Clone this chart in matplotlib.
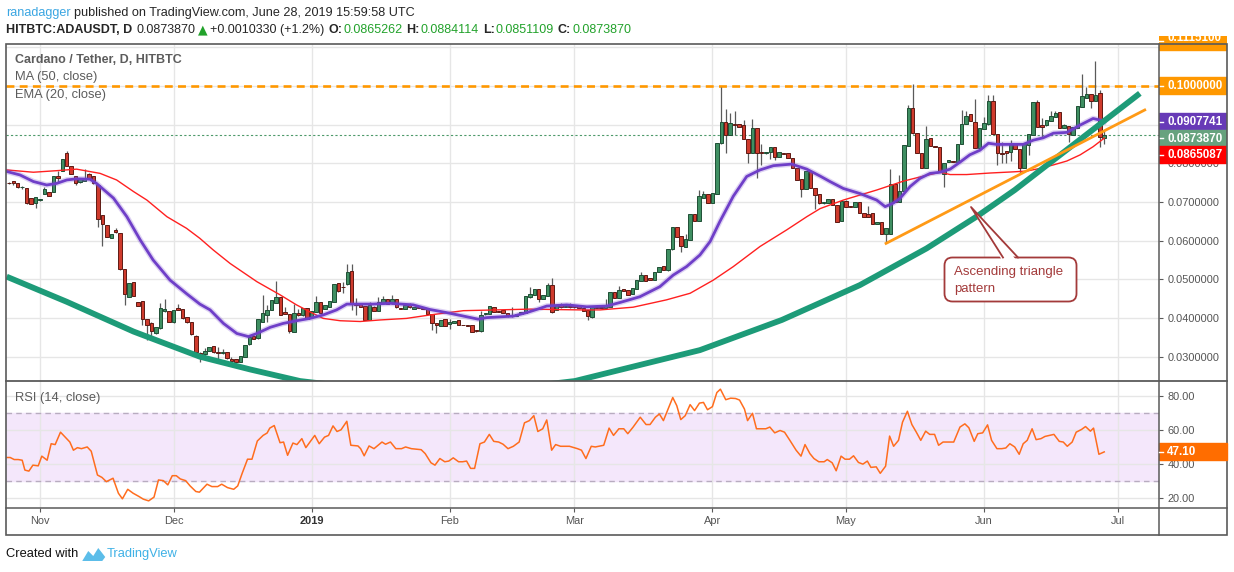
import datetime as dt
import numpy as np
import pandas as pd
import matplotlib
matplotlib.use("Agg")
import matplotlib.pyplot as plt
import matplotlib.dates as mdates
from matplotlib import font_manager
from matplotlib.patches import Rectangle, FancyBboxPatch, Polygon

W, H = 1234, 572

installed = {f.name for f in font_manager.fontManager.ttflist}
NARROW = "Liberation Sans Narrow" if "Liberation Sans Narrow" in installed else "Liberation Sans"
plt.rcParams["font.family"] = ["Liberation Sans", "DejaVu Sans"]

# ---------------- data ----------------
first_day = "2018-10-25"   # first (partly cut) daily candle

opens = [0.0749, 0.0754, 0.0748, 0.0738, 0.0735, 0.0710, 0.0698,
         0.0704, 0.0721, 0.0725, 0.0727, 0.0767, 0.0780, 0.0826, 0.0793, 0.0767, 0.0751,
         0.0755, 0.0773, 0.0767, 0.0744, 0.0666, 0.0640, 0.0608, 0.0628, 0.0619, 0.0526,
         0.0455, 0.0492, 0.0441, 0.0443, 0.0397, 0.0388, 0.0360, 0.0373, 0.0417, 0.0418,
         0.0389, 0.0425, 0.0423, 0.0402, 0.0390, 0.0354, 0.0310, 0.0307, 0.0316, 0.0327,
         0.0312, 0.0309, 0.0311, 0.0294, 0.0294, 0.0287, 0.0298, 0.0332, 0.0353, 0.0348,
         0.0391, 0.0408, 0.0421, 0.0440, 0.0454, 0.0416, 0.0410, 0.0365, 0.0413, 0.0407,
         0.0425, 0.0402, 0.0416, 0.0441, 0.0424, 0.0429, 0.0442, 0.0491, 0.0480, 0.0487,
         0.0522, 0.0438, 0.0435, 0.0430, 0.0395, 0.0429, 0.0419, 0.0440, 0.0448, 0.0438,
         0.0449, 0.0425, 0.0423, 0.0433, 0.0424, 0.0429, 0.0426, 0.0423, 0.0410, 0.0388,
         0.0380, 0.0398, 0.0385, 0.0386, 0.0395, 0.0382, 0.0381, 0.0381, 0.0369, 0.0366,
         0.0410, 0.0410, 0.0428, 0.0418, 0.0421, 0.0412, 0.0404, 0.0406, 0.0410, 0.0412,
         0.0454, 0.0460, 0.0475, 0.0450, 0.0458, 0.0485, 0.0421, 0.0433, 0.0429, 0.0431,
         0.0431, 0.0431, 0.0426, 0.0421, 0.0402, 0.0429, 0.0428, 0.0426, 0.0429, 0.0466,
         0.0453, 0.0474, 0.0473, 0.0461, 0.0476, 0.0497, 0.0511, 0.0503, 0.0498, 0.0520,
         0.0535, 0.0523, 0.0578, 0.0635, 0.0612, 0.0583, 0.0602, 0.0669, 0.0652, 0.0711,
         0.0720, 0.0698, 0.0721, 0.0852, 0.0908, 0.0873, 0.0902, 0.0902, 0.0899, 0.0862,
         0.0828, 0.0891, 0.0829, 0.0826, 0.0829, 0.0841, 0.0816, 0.0826, 0.0826, 0.0813,
         0.0787, 0.0759, 0.0733, 0.0781, 0.0735, 0.0720, 0.0697, 0.0697, 0.0707, 0.0692,
         0.0652, 0.0703, 0.0690, 0.0686, 0.0701, 0.0672, 0.0669, 0.0671, 0.0642, 0.0649,
         0.0616, 0.0616, 0.0746, 0.0699, 0.0728, 0.0846, 0.0942, 0.0878, 0.0826, 0.0789,
         0.0865, 0.0845, 0.0841, 0.0772, 0.0803, 0.0806, 0.0803, 0.0849, 0.0903, 0.0927,
         0.0906, 0.0839, 0.0889, 0.0901, 0.0961, 0.0875, 0.0827, 0.0832, 0.0830, 0.0852,
         0.0837, 0.0789, 0.0848, 0.0873, 0.0958, 0.0899, 0.0898, 0.0910, 0.0921, 0.0932,
         0.0891, 0.0897, 0.0873, 0.0892, 0.0945, 0.0970, 0.0979, 0.0961, 0.0981, 0.0865262]

highs = [0.0752, 0.0755, 0.0750, 0.0741, 0.0737, 0.0711, 0.0713,
         0.0708, 0.0740, 0.0726, 0.0768, 0.0779, 0.0812, 0.0831, 0.0794, 0.0768, 0.0760,
         0.0785, 0.0774, 0.0768, 0.0745, 0.0667, 0.0641, 0.0617, 0.0633, 0.0620, 0.0527,
         0.0490, 0.0493, 0.0442, 0.0444, 0.0398, 0.0389, 0.0378, 0.0440, 0.0449, 0.0419,
         0.0421, 0.0436, 0.0424, 0.0403, 0.0391, 0.0355, 0.0311, 0.0322, 0.0326, 0.0328,
         0.0325, 0.0319, 0.0312, 0.0300, 0.0295, 0.0303, 0.0331, 0.0351, 0.0353, 0.0397,
         0.0460, 0.0434, 0.0447, 0.0497, 0.0455, 0.0428, 0.0411, 0.0436, 0.0423, 0.0426,
         0.0426, 0.0419, 0.0457, 0.0441, 0.0434, 0.0445, 0.0489, 0.0491, 0.0492, 0.0540,
         0.0540, 0.0451, 0.0436, 0.0431, 0.0442, 0.0430, 0.0455, 0.0457, 0.0449, 0.0460,
         0.0450, 0.0426, 0.0434, 0.0438, 0.0428, 0.0430, 0.0427, 0.0423, 0.0410, 0.0388,
         0.0395, 0.0398, 0.0398, 0.0393, 0.0395, 0.0382, 0.0381, 0.0381, 0.0369, 0.0419,
         0.0414, 0.0431, 0.0428, 0.0418, 0.0421, 0.0412, 0.0428, 0.0410, 0.0416, 0.0457,
         0.0481, 0.0475, 0.0475, 0.0460, 0.0490, 0.0503, 0.0434, 0.0440, 0.0432, 0.0440,
         0.0431, 0.0431, 0.0426, 0.0421, 0.0428, 0.0429, 0.0428, 0.0448, 0.0468, 0.0466,
         0.0483, 0.0474, 0.0473, 0.0477, 0.0498, 0.0519, 0.0511, 0.0503, 0.0520, 0.0533,
         0.0535, 0.0578, 0.0635, 0.0635, 0.0612, 0.0617, 0.0669, 0.0669, 0.0731, 0.0729,
         0.0720, 0.0723, 0.0852, 0.0998, 0.0940, 0.0929, 0.0935, 0.0902, 0.0912, 0.0862,
         0.0914, 0.0891, 0.0850, 0.0830, 0.0841, 0.0841, 0.0829, 0.0826, 0.0826, 0.0813,
         0.0787, 0.0759, 0.0779, 0.0781, 0.0736, 0.0720, 0.0701, 0.0708, 0.0707, 0.0692,
         0.0703, 0.0704, 0.0690, 0.0699, 0.0701, 0.0672, 0.0690, 0.0671, 0.0649, 0.0649,
         0.0632, 0.0785, 0.0746, 0.0770, 0.0847, 0.0951, 0.1004, 0.0878, 0.0826, 0.0897,
         0.0866, 0.0845, 0.0841, 0.0802, 0.0809, 0.0806, 0.0849, 0.0938, 0.0935, 0.0927,
         0.0966, 0.0891, 0.0921, 0.0977, 0.0977, 0.0875, 0.0854, 0.0833, 0.0860, 0.0852,
         0.0837, 0.0849, 0.0875, 0.0958, 0.0964, 0.0916, 0.0911, 0.0935, 0.0935, 0.0932,
         0.0901, 0.0897, 0.0893, 0.0948, 0.1030, 0.0998, 0.0979, 0.1065, 0.0990, 0.0884114]

lows = [0.0746, 0.0744, 0.0737, 0.0733, 0.0695, 0.0694, 0.0684,
        0.0702, 0.0720, 0.0715, 0.0725, 0.0753, 0.0779, 0.0793, 0.0772, 0.0744, 0.0750,
        0.0754, 0.0762, 0.0747, 0.0636, 0.0587, 0.0609, 0.0606, 0.0620, 0.0525, 0.0433,
        0.0454, 0.0457, 0.0431, 0.0382, 0.0342, 0.0346, 0.0359, 0.0372, 0.0416, 0.0390,
        0.0388, 0.0421, 0.0398, 0.0388, 0.0357, 0.0310, 0.0287, 0.0300, 0.0315, 0.0310,
        0.0285, 0.0308, 0.0295, 0.0289, 0.0286, 0.0286, 0.0298, 0.0331, 0.0346, 0.0347,
        0.0390, 0.0391, 0.0420, 0.0439, 0.0408, 0.0411, 0.0360, 0.0364, 0.0406, 0.0406,
        0.0398, 0.0401, 0.0416, 0.0413, 0.0423, 0.0429, 0.0442, 0.0468, 0.0464, 0.0486,
        0.0421, 0.0408, 0.0428, 0.0394, 0.0394, 0.0417, 0.0418, 0.0439, 0.0435, 0.0437,
        0.0425, 0.0423, 0.0423, 0.0427, 0.0424, 0.0425, 0.0424, 0.0409, 0.0369, 0.0362,
        0.0380, 0.0380, 0.0371, 0.0386, 0.0382, 0.0381, 0.0379, 0.0364, 0.0365, 0.0365,
        0.0409, 0.0410, 0.0415, 0.0415, 0.0412, 0.0403, 0.0403, 0.0406, 0.0410, 0.0412,
        0.0453, 0.0460, 0.0442, 0.0450, 0.0457, 0.0414, 0.0420, 0.0427, 0.0429, 0.0427,
        0.0427, 0.0425, 0.0419, 0.0395, 0.0401, 0.0425, 0.0425, 0.0425, 0.0429, 0.0452,
        0.0452, 0.0470, 0.0459, 0.0461, 0.0476, 0.0496, 0.0496, 0.0498, 0.0498, 0.0520,
        0.0523, 0.0522, 0.0577, 0.0610, 0.0572, 0.0583, 0.0602, 0.0652, 0.0651, 0.0711,
        0.0698, 0.0698, 0.0720, 0.0851, 0.0826, 0.0872, 0.0872, 0.0895, 0.0862, 0.0802,
        0.0827, 0.0761, 0.0796, 0.0825, 0.0810, 0.0809, 0.0816, 0.0824, 0.0813, 0.0787,
        0.0757, 0.0712, 0.0733, 0.0735, 0.0681, 0.0696, 0.0696, 0.0697, 0.0692, 0.0649,
        0.0651, 0.0688, 0.0686, 0.0686, 0.0671, 0.0660, 0.0660, 0.0642, 0.0642, 0.0616,
        0.0593, 0.0616, 0.0701, 0.0699, 0.0728, 0.0845, 0.0877, 0.0828, 0.0789, 0.0789,
        0.0845, 0.0841, 0.0778, 0.0740, 0.0803, 0.0803, 0.0803, 0.0849, 0.0903, 0.0909,
        0.0839, 0.0838, 0.0888, 0.0900, 0.0875, 0.0796, 0.0800, 0.0800, 0.0806, 0.0836,
        0.0774, 0.0789, 0.0822, 0.0873, 0.0895, 0.0865, 0.0897, 0.0910, 0.0921, 0.0892,
        0.0891, 0.0854, 0.0873, 0.0892, 0.0945, 0.0970, 0.0942, 0.0961, 0.0841, 0.0851109]

closes = [0.0748, 0.0750, 0.0738, 0.0740, 0.0697, 0.0695, 0.0712,
          0.0707, 0.0733, 0.0716, 0.0767, 0.0763, 0.0811, 0.0794, 0.0773, 0.0750, 0.0759,
          0.0759, 0.0763, 0.0748, 0.0655, 0.0642, 0.0610, 0.0617, 0.0622, 0.0526, 0.0461,
          0.0490, 0.0458, 0.0432, 0.0398, 0.0381, 0.0367, 0.0378, 0.0425, 0.0423, 0.0391,
          0.0421, 0.0422, 0.0399, 0.0389, 0.0358, 0.0311, 0.0304, 0.0315, 0.0325, 0.0311,
          0.0309, 0.0311, 0.0296, 0.0290, 0.0287, 0.0302, 0.0330, 0.0350, 0.0347, 0.0397,
          0.0414, 0.0421, 0.0447, 0.0454, 0.0409, 0.0411, 0.0366, 0.0412, 0.0407, 0.0425,
          0.0398, 0.0418, 0.0441, 0.0414, 0.0434, 0.0444, 0.0488, 0.0469, 0.0479, 0.0518,
          0.0435, 0.0434, 0.0429, 0.0395, 0.0434, 0.0418, 0.0441, 0.0449, 0.0436, 0.0449,
          0.0428, 0.0423, 0.0434, 0.0428, 0.0428, 0.0425, 0.0424, 0.0410, 0.0386, 0.0381,
          0.0395, 0.0380, 0.0389, 0.0393, 0.0382, 0.0381, 0.0379, 0.0365, 0.0366, 0.0408,
          0.0414, 0.0431, 0.0416, 0.0416, 0.0412, 0.0404, 0.0408, 0.0410, 0.0416, 0.0457,
          0.0461, 0.0475, 0.0449, 0.0460, 0.0486, 0.0416, 0.0434, 0.0428, 0.0432, 0.0428,
          0.0428, 0.0425, 0.0419, 0.0405, 0.0428, 0.0425, 0.0425, 0.0431, 0.0468, 0.0453,
          0.0473, 0.0471, 0.0460, 0.0477, 0.0498, 0.0511, 0.0497, 0.0498, 0.0520, 0.0533,
          0.0523, 0.0578, 0.0635, 0.0610, 0.0585, 0.0604, 0.0669, 0.0652, 0.0716, 0.0720,
          0.0698, 0.0723, 0.0852, 0.0906, 0.0872, 0.0905, 0.0900, 0.0895, 0.0862, 0.0828,
          0.0891, 0.0828, 0.0828, 0.0830, 0.0841, 0.0817, 0.0829, 0.0824, 0.0813, 0.0787,
          0.0757, 0.0733, 0.0779, 0.0735, 0.0718, 0.0697, 0.0701, 0.0708, 0.0692, 0.0649,
          0.0703, 0.0688, 0.0686, 0.0699, 0.0671, 0.0660, 0.0660, 0.0642, 0.0649, 0.0616,
          0.0632, 0.0746, 0.0701, 0.0728, 0.0847, 0.0942, 0.0878, 0.0828, 0.0789, 0.0862,
          0.0845, 0.0841, 0.0778, 0.0802, 0.0809, 0.0803, 0.0849, 0.0903, 0.0923, 0.0909,
          0.0839, 0.0891, 0.0904, 0.0961, 0.0875, 0.0826, 0.0825, 0.0826, 0.0852, 0.0836,
          0.0789, 0.0849, 0.0875, 0.0958, 0.0895, 0.0895, 0.0911, 0.0923, 0.0931, 0.0892,
          0.0898, 0.0875, 0.0893, 0.0948, 0.0973, 0.0979, 0.0961, 0.0977, 0.0869, 0.0873870]

# indicator readings: x = days after 1 Nov 2018
ema20_day = [-7.5, -4.5, -1.5, 1.5, 3.7, 6.0, 8.2, 11.2, 12.7, 16.5,
             19.5, 22.5, 25.4, 29.2, 32.9, 35.9, 38.2, 41.2, 44.2, 46.8,
             48.7, 51.7, 54.6, 57.6, 60.6, 63.6, 66.6, 68.9, 71.1, 74.8,
             78.6, 83.8, 87.6, 91.3, 95.1, 98.4, 100.3, 106.3, 109.3, 112.3,
             113.8, 118.3, 122.8, 127.3, 130.2, 134.7, 139.2, 142.2, 145.2, 148.2,
             150.5, 152.7, 155.7, 158.7, 161.7, 164.7, 168.8, 172.2, 175.2, 177.4,
             180.4, 184.1, 187.9, 189.8, 191.6, 193.1, 195.4, 197.6, 199.9, 202.1,
             204.4, 206.6, 208.8, 211.1, 213.0, 214.8, 218.6, 220.8, 223.1, 225.3,
             227.6, 230.6, 233.6, 236.5, 238.0, 239.0]
ema20_val = [0.0779, 0.0770, 0.0753, 0.0744, 0.0748, 0.0757, 0.0760, 0.0759, 0.0748, 0.0710,
             0.0662, 0.0602, 0.0550, 0.0498, 0.0463, 0.0436, 0.0421, 0.0386, 0.0360, 0.0352,
             0.0360, 0.0376, 0.0386, 0.0393, 0.0399, 0.0408, 0.0421, 0.0436, 0.0436, 0.0436,
             0.0438, 0.0434, 0.0422, 0.0414, 0.0405, 0.0397, 0.0401, 0.0405, 0.0414, 0.0425,
             0.0431, 0.0434, 0.0429, 0.0431, 0.0440, 0.0455, 0.0481, 0.0511, 0.0533, 0.0563,
             0.0598, 0.0650, 0.0715, 0.0766, 0.0783, 0.0794, 0.0798, 0.0785, 0.0767, 0.0753,
             0.0735, 0.0722, 0.0705, 0.0688, 0.0697, 0.0709, 0.0740, 0.0761, 0.0774, 0.0777,
             0.0785, 0.0803, 0.0822, 0.0834, 0.0852, 0.0849, 0.0849, 0.0849, 0.0860, 0.0866,
             0.0878, 0.0880, 0.0899, 0.0916, 0.0912, 0.0907741]

ma50_day = [-7.5, -1.5, 3.7, 8.2, 13.5, 17.2, 21.0, 24.0, 28.5, 32.9,
            35.9, 38.9, 42.7, 48.7, 53.9, 57.6, 60.6, 63.6, 67.4, 71.9,
            76.4, 82.3, 87.6, 95.1, 102.6, 110.0, 115.3, 121.3, 125.8, 133.2,
            140.7, 146.0, 151.2, 155.7, 161.7, 167.7, 172.2, 175.2, 180.4, 187.9,
            193.9, 198.4, 202.1, 204.4, 208.1, 213.4, 218.6, 221.6, 224.6, 227.6,
            230.6, 233.6, 236.5, 239.0]
ma50_val = [0.0783, 0.0777, 0.0781, 0.0785, 0.0774, 0.0757, 0.0727, 0.0705, 0.0662, 0.0632,
            0.0606, 0.0576, 0.0541, 0.0494, 0.0460, 0.0434, 0.0416, 0.0399, 0.0393, 0.0391,
            0.0395, 0.0399, 0.0408, 0.0419, 0.0421, 0.0423, 0.0422, 0.0421, 0.0421, 0.0428,
            0.0447, 0.0464, 0.0498, 0.0533, 0.0585, 0.0628, 0.0662, 0.0683, 0.0705, 0.0731,
            0.0754, 0.0767, 0.0777, 0.0771, 0.0771, 0.0775, 0.0778, 0.0780, 0.0787, 0.0796,
            0.0806, 0.0822, 0.0843, 0.0865087]

rsi_day = [-7.4, -6.7, -5.8, -4.9, -4.0, -3.4, -2.5, -1.6, -0.4, 0.4,
           1.6, 2.5, 3.4, 4.6, 5.8, 6.7, 7.5, 8.4, 9.3, 10.6,
           11.5, 12.9, 13.9, 14.9, 16.4, 17.6, 18.5, 19.7, 20.9, 22.2,
           23.2, 24.4, 25.6, 26.6, 27.7, 28.7, 29.7, 30.6, 31.5, 32.7,
           33.7, 35.0, 35.8, 37.5, 38.6, 39.9, 40.8, 42.1, 43.5, 44.4,
           45.4, 46.6, 47.6, 48.8, 50.1, 51.0, 51.6, 52.6, 53.9, 54.7,
           55.6, 56.8, 57.7, 58.8, 59.7, 61.7, 62.7, 63.9, 64.8, 65.8,
           66.7, 67.6, 68.9, 69.8, 71.4, 72.0, 72.8, 73.9, 75.0, 76.8,
           77.6, 78.7, 79.9, 81.2, 82.1, 83.4, 85.6, 86.5, 87.8, 88.7,
           89.8, 90.9, 91.8, 92.8, 94.0, 94.9, 95.8, 96.7, 97.6, 98.8,
           99.8, 100.9, 101.9, 103.0, 104.0, 105.1, 106.3, 107.6, 108.8, 109.9,
           110.9, 111.8, 112.9, 113.8, 114.9, 115.8, 116.9, 118.9, 120.7, 121.6,
           122.6, 123.8, 124.7, 126.6, 127.8, 128.8, 130.0, 131.1, 132.0, 133.2,
           134.8, 136.1, 137.0, 138.2, 139.1, 140.0, 140.9, 142.1, 143.0, 143.9,
           144.9, 146.0, 147.0, 148.1, 149.0, 149.9, 151.0, 152.0, 152.8, 154.0,
           155.1, 156.2, 157.1, 158.2, 158.9, 160.0, 160.9, 162.1, 163.0, 163.9,
           165.0, 166.2, 167.2, 168.4, 169.8, 170.9, 171.8, 172.9, 173.8, 174.9,
           176.1, 176.8, 177.9, 178.8, 179.9, 180.8, 181.8, 182.7, 183.8, 184.8,
           185.8, 186.6, 187.8, 188.7, 189.9, 190.8, 191.7, 192.8, 193.7, 194.8,
           195.8, 196.8, 197.8, 198.9, 199.8, 200.9, 201.8, 202.8, 204.1, 205.2,
           206.6, 207.7, 208.6, 209.8, 210.6, 211.7, 212.8, 213.7, 214.9, 216.0,
           216.9, 217.8, 218.9, 219.9, 220.8, 221.7, 222.8, 223.7, 224.8, 225.7,
           227.7, 228.9, 229.8, 230.7, 231.8, 232.7, 233.9, 234.8, 235.9, 236.6,
           237.8, 239.0]
rsi_val = [43.8, 43.8, 42.6, 42.6, 42.2, 36.4, 35.8, 39.3, 38.9, 44.6,
           42.2, 51.9, 51.4, 58.7, 55.4, 52.9, 48.1, 49.6, 49.0, 50.0,
           47.5, 33.5, 32.1, 29.6, 31.6, 22.8, 19.5, 25.1, 22.8, 20.9,
           19.3, 18.3, 20.5, 30.6, 30.2, 27.7, 33.1, 33.1, 31.2, 30.2,
           27.1, 23.8, 23.4, 28.1, 26.7, 26.7, 28.1, 26.1, 25.1, 27.1,
           34.5, 42.8, 42.8, 53.5, 56.8, 58.2, 61.1, 62.6, 52.5, 52.9,
           45.1, 52.3, 51.4, 54.9, 49.6, 56.8, 51.9, 55.8, 56.8, 62.4,
           59.1, 60.1, 65.1, 51.0, 50.6, 49.0, 44.8, 50.6, 49.0, 52.9,
           51.6, 52.9, 49.0, 49.0, 50.0, 49.0, 48.4, 46.1, 40.7, 39.3,
           43.2, 41.3, 41.7, 43.6, 41.3, 41.3, 41.7, 37.4, 37.4, 51.9,
           52.9, 57.4, 53.3, 52.9, 51.6, 49.0, 50.4, 52.9, 64.2, 65.5,
           68.4, 59.1, 60.7, 65.9, 48.1, 51.4, 50.4, 50.4, 49.0, 48.1,
           43.2, 50.4, 50.0, 51.0, 61.1, 56.8, 60.7, 60.7, 57.8, 61.7,
           67.5, 63.2, 63.2, 67.5, 69.4, 65.5, 71.4, 79.1, 74.3, 66.1,
           68.4, 74.9, 71.4, 75.8, 76.2, 71.9, 73.7, 82.0, 84.0, 77.8,
           78.7, 78.5, 77.6, 72.3, 65.5, 69.8, 60.7, 60.7, 60.7, 61.7,
           58.3, 59.7, 58.7, 53.9, 48.1, 44.6, 51.4, 46.1, 43.2, 41.3,
           41.3, 42.6, 40.7, 36.0, 44.6, 42.8, 42.8, 44.8, 40.9, 39.9,
           41.7, 38.0, 38.3, 34.5, 38.7, 56.4, 50.4, 53.9, 64.6, 71.0,
           63.2, 58.7, 53.9, 59.3, 57.4, 57.4, 51.0, 52.9, 52.9, 52.9,
           61.7, 63.6, 61.3, 53.3, 57.8, 58.3, 63.0, 53.9, 49.0, 49.0,
           49.4, 51.9, 50.0, 45.7, 51.9, 53.9, 60.7, 54.3, 54.9, 56.2,
           57.4, 53.3, 52.9, 50.4, 52.9, 58.7, 60.3, 62.0, 59.3, 61.1,
           45.7, 47.1]

# hand drawn trend curve (green) and ascending triangle support (orange)
curve_day = [-7.5, 6.0, 21.0, 35.9, 47.2, 58.4, 74.1, 89.2, 104.4, 120.1,
             148.2, 166.6, 184.1, 199.1, 210.3, 218.9, 247.0]
curve_val = [0.0507, 0.0442, 0.0365, 0.0300, 0.0267, 0.0237, 0.0216, 0.0206, 0.0216, 0.0237,
             0.0317, 0.0395, 0.0485, 0.0580, 0.0662, 0.0731, 0.0981]
support_day = [190.0, 248.1]
support_val = [0.0593, 0.0938]

resistance = 0.1
upper_level = 0.1115100
ema_last = 0.0907741
ma_last = 0.0865087
rsi_last = 47.10
change_abs = 0.0010330
change_pct = 1.2

price_ticks = [0.03, 0.04, 0.05, 0.06, 0.07, 0.08, 0.09, 0.10, 0.11]
rsi_ticks = [20, 40, 60, 80]
month_starts = [dt.datetime(2018, 11, 1), dt.datetime(2018, 12, 1), dt.datetime(2019, 1, 1),
                dt.datetime(2019, 2, 1), dt.datetime(2019, 3, 1), dt.datetime(2019, 4, 1),
                dt.datetime(2019, 5, 1), dt.datetime(2019, 6, 1), dt.datetime(2019, 7, 1)]
month_labels = ["Nov", "Dec", "2019", "Feb", "Mar", "Apr", "May", "Jun", "Jul"]

# ---------------- layout ----------------
base_num = mdates.date2num(dt.datetime(2018, 11, 1))
dates = pd.date_range(first_day, periods=len(closes), freq="D")
xs = mdates.date2num(dates.to_pydatetime())

PANE_L, PANE_R, FRAME_R = 6, 1159, 1227
TOP, MID, BOT, FRAME_B = 44, 381, 508, 535
YMIN, YMAX = 0.023714, 0.110861
RMIN, RMAX = 14.1, 88.8
XMIN, XMAX = base_num - 7.64, base_num + 251.3
FRAME = "#5a5a5a"
TXT = "#555555"


def fbox(x0, y0, x1, y1):
    return [x0 / W, 1 - y1 / H, (x1 - x0) / W, (y1 - y0) / H]


def price_px(p):
    return TOP + (YMAX - p) / (YMAX - YMIN) * (MID - TOP)


def rsi_px(v):
    return MID + (RMAX - v) / (RMAX - RMIN) * (BOT - MID)


fig = plt.figure(figsize=(W / 100, H / 100), dpi=100)
fig.patch.set_facecolor("white")

ax = fig.add_axes(fbox(PANE_L, TOP, PANE_R, MID))
axr = fig.add_axes(fbox(PANE_L, MID, PANE_R, BOT))

month_x = mdates.date2num(month_starts)
for a in (ax, axr):
    a.set_xlim(XMIN, XMAX)
    a.set_xticks(month_x)
    a.grid(True, color="#e6e6e6", lw=1)
    a.set_axisbelow(True)
    for s in a.spines.values():
        s.set_visible(False)
    a.yaxis.tick_right()
    a.tick_params(axis="y", length=3, width=0.8, color=FRAME, labelcolor=TXT,
                  labelsize=7.9, pad=3)

ax.set_ylim(YMIN, YMAX)
ax.set_yticks(price_ticks)
# labels hidden behind the price tags (0.09, 0.10, 0.11) are left blank
covered = {0.09, 0.10, 0.11}
ax.set_yticklabels(["" if t in covered else f"{t:.7f}" for t in price_ticks])
ax.tick_params(axis="x", length=0, labelbottom=False)

axr.set_ylim(RMIN, RMAX)
axr.set_yticks(rsi_ticks)
axr.set_yticklabels([f"{t:.2f}" for t in rsi_ticks])
axr.set_xticklabels(month_labels)
axr.tick_params(axis="x", length=3, width=0.8, color=FRAME, labelcolor=TXT,
                labelsize=7.9, pad=3)
for lbl in axr.get_xticklabels():
    if lbl.get_text() == "2019":
        lbl.set_fontweight("bold")
        lbl.set_color("#333333")

# ---------------- price pane ----------------
ax.axhline(resistance, color="#ff9800", lw=1.9, dashes=(3, 2), zorder=2)
ax.axhline(closes[-1], color="#4e9a6b", lw=0.8, dashes=(2, 2), zorder=2)

o = np.array(opens)
c = np.array(closes)
hi = np.array(highs)
lo = np.array(lows)
up = c > o
body_lo = np.minimum(o, c)
body_h = np.maximum(np.abs(c - o), 0.00012)
ax.vlines(xs, lo, hi, color="#5a5a5a", lw=0.9, zorder=3)
ax.bar(xs[up], body_h[up], bottom=body_lo[up], width=0.78, color="#3f8f62",
       edgecolor="#1f4f35", linewidth=0.7, zorder=4)
ax.bar(xs[~up], body_h[~up], bottom=body_lo[~up], width=0.78, color="#cf3b2d",
       edgecolor="#5e1a14", linewidth=0.7, zorder=4)

ax.plot(base_num + np.array(ma50_day), ma50_val, color="#ff2020", lw=1.0, zorder=5)
ax.plot(base_num + np.array(ema20_day), ema20_val, color="#7b4fd0", lw=4, alpha=0.25, zorder=5)
ax.plot(base_num + np.array(ema20_day), ema20_val, color="#6f3fc8", lw=2.0, zorder=5)
ax.plot(base_num + np.array(curve_day), curve_val, color="#1d9b78", lw=4.2,
        solid_capstyle="butt", zorder=6)
ax.plot(base_num + np.array(support_day), support_val, color="#ff9a16", lw=2.0, zorder=6)

# ---------------- RSI pane ----------------
axr.axhspan(30, 70, color="#f4e7fb", zorder=0)
axr.axhline(70, color="#b8acc0", lw=1, dashes=(4, 3), zorder=1)
axr.axhline(30, color="#b8acc0", lw=1, dashes=(4, 3), zorder=1)
axr.plot(base_num + np.array(rsi_day), rsi_val, color="#ff6d1e", lw=1.1, zorder=3)

# ---------------- price tags on the axis column ----------------
axl = fig.add_axes(fbox(PANE_R, 36, FRAME_R, MID))
axl.set_xlim(PANE_R, FRAME_R)
axl.set_ylim(MID, 36)
axl.axis("off")
axl.set_zorder(5)


def tag(axis, y, text, color, text_dy=0.5):
    axis.add_patch(Rectangle((PANE_R, y - 8.5), FRAME_R - PANE_R, 17, color=color,
                             clip_on=True, zorder=3))
    axis.plot([PANE_R, PANE_R + 4], [y, y], color="white", lw=1, zorder=4)
    axis.text(PANE_R + 8, y + text_dy, text, color="white", fontsize=8.4, fontweight="bold",
              va="center", ha="left", clip_on=True, zorder=5)


tag(axl, price_px(upper_level), f"{upper_level:.7f}", "#ff9800", text_dy=-3)
tag(axl, price_px(resistance), f"{resistance:.7f}", "#ff9800")
stack = sorted([(ema_last, "#673ab7"), (closes[-1], "#67a27e"), (ma_last, "#ff0000")],
               key=lambda t: -t[0])
prev = -100
for val, col in stack:
    y = max(price_px(val), prev + 16.5)
    tag(axl, y, f"{val:.7f}", col)
    prev = y

# ---------------- overlay: frame, texts, callout ----------------
ov = fig.add_axes([0, 0, 1, 1])
ov.set_xlim(0, W)
ov.set_ylim(H, 0)
ov.axis("off")
ov.set_zorder(10)
ov.patch.set_alpha(0)

ov.add_patch(Rectangle((PANE_L, TOP), FRAME_R - PANE_L, FRAME_B - TOP, fill=False,
                       ec=FRAME, lw=1.2))
ov.plot([PANE_R, PANE_R], [TOP, FRAME_B], color=FRAME, lw=1.1)
ov.plot([PANE_L, FRAME_R], [MID, MID], color=FRAME, lw=1.3)
ov.plot([PANE_L, FRAME_R], [BOT, BOT], color=FRAME, lw=1.1)

ry = rsi_px(rsi_last)
ov.add_patch(Rectangle((PANE_R, ry - 8.5), FRAME_R - PANE_R, 17, color="#ff6d00"))
ov.plot([PANE_R, PANE_R + 4], [ry, ry], color="white", lw=1)
ov.text(PANE_R + 8, ry + 0.5, f"{rsi_last:.2f}", color="white", fontsize=8.4,
        fontweight="bold", va="center", ha="left")

renderer = fig.canvas.get_renderer()


def run(x, y, parts, size):
    for txt, kw, gap in parts:
        fam = kw.pop("family", [NARROW, "DejaVu Sans"])
        t = ov.text(x, y, txt, fontsize=size, va="center", ha="left", family=fam, **kw)
        x += t.get_window_extent(renderer).width + gap
    return x


DARK = "#262626"
GREEN = "#22a22b"
run(6, 13, [("ranadagger", dict(color="#3ba6e2"), 3),
            ("published on TradingView.com, June 28, 2019 15:59:58 UTC", dict(color=DARK), 0)], 9.1)
run(6, 30, [("HITBTC:ADAUSDT, D", dict(color=DARK, fontweight="bold"), 4),
            (f"{closes[-1]:.7f}", dict(color=DARK), 3),
            ("\u25b2", dict(color=GREEN, family=["DejaVu Sans"]), 2),
            (f"+{change_abs:.7f} (+{change_pct:.1f}%)", dict(color=DARK), 4),
            ("O:", dict(color=DARK, fontweight="bold"), 1),
            (f"{opens[-1]:.7f}", dict(color=GREEN), 4),
            ("H:", dict(color=DARK, fontweight="bold"), 1),
            (f"{highs[-1]:.7f}", dict(color=GREEN), 4),
            ("L:", dict(color=DARK, fontweight="bold"), 1),
            (f"{lows[-1]:.7f}", dict(color=GREEN), 4),
            ("C:", dict(color=DARK, fontweight="bold"), 1),
            (f"{closes[-1]:.7f}", dict(color=GREEN), 0)], 9.0)

ov.text(15, 60, "Cardano / Tether, D, HITBTC", fontsize=9.0, fontweight="bold",
        color="#5c5c5c", va="center", family=[NARROW, "DejaVu Sans"])
ov.text(15, 77, "MA (50, close)", fontsize=9.3, color="#5c5c5c", va="center",
        family=[NARROW, "DejaVu Sans"])
ov.text(15, 95, "EMA (20, close)", fontsize=9.3, color="#5c5c5c", va="center",
        family=[NARROW, "DejaVu Sans"])
ov.text(15, 398, "RSI (14, close)", fontsize=9.3, color="#5c5c5c", va="center",
        family=[NARROW, "DejaVu Sans"])

# callout
CALL = "#a33a3a"
ov.add_patch(FancyBboxPatch((947, 260), 127, 39, boxstyle="round,pad=2.5,rounding_size=8",
                            fc="white", ec=CALL, lw=1.3, zorder=3))
ov.add_patch(Polygon([[1003, 262], [971, 207], [1018, 262]], closed=True, fc="white",
                     ec="none", zorder=4))
ov.plot([1003, 971, 1018], [257.5, 207, 257.5], color=CALL, lw=1.3, zorder=5)
ov.text(954, 272, "Ascending triangle", fontsize=9.5, color=CALL, va="center", zorder=6)
ov.text(954, 289, "pattern", fontsize=9.5, color=CALL, va="center", zorder=6)

# footer
x_end = run(6, 554, [("Created with", dict(color="#111111"), 4)], 9.3)
ov.add_patch(Polygon([[x_end, 561], [x_end + 6, 551], [x_end + 11, 556], [x_end + 16, 548],
                      [x_end + 23, 557], [x_end + 20, 561]], closed=True,
                     fc="#5cbde9", ec="none"))
run(x_end + 24, 554, [("TradingView", dict(color="#3fb1e6"), 0)], 9.3)

fig.savefig("out.png", dpi=100)
